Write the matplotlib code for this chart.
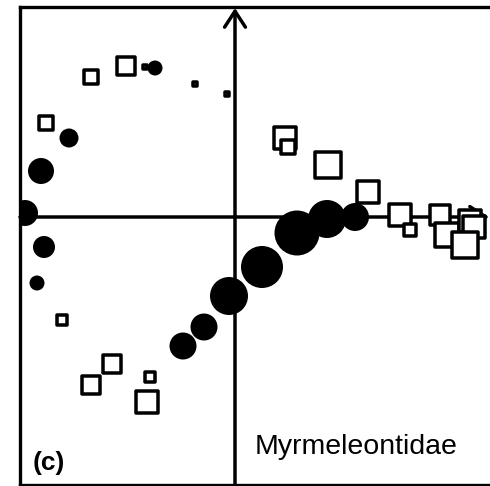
import matplotlib
matplotlib.use("Agg")
import matplotlib.pyplot as plt
import numpy as np

plt.rcParams['font.family'] = ['Liberation Sans', 'DejaVu Sans']

# Ordination scores (axis 1, axis 2) and relative abundance (marker size, px)
circle_x = [-0.80, -1.66, -1.94, -2.10, -1.91, -1.98, -0.52, -0.31, -0.06, 0.27, 0.62, 0.92, 1.20]
circle_y = [1.49, 0.79, 0.46, 0.04, -0.30, -0.66, -1.29, -1.10, -0.79, -0.50, -0.16, -0.02, 0.00]
circle_size = [15, 19, 26, 26, 22, 15, 27, 27, 38, 42, 45, 38, 28]

square_x = [-1.44, -1.09, -0.90, -0.40, -0.08, -1.89, -1.73, -1.23, -1.44, -0.85, -0.88,
            0.50, 0.53, 0.93, 1.33, 1.65, 1.75, 2.05, 2.12, 2.35, 2.39, 2.30]
square_y = [1.40, 1.51, 1.50, 1.33, 1.23, 0.94, -1.03, -1.47, -1.68, -1.60, -1.85,
            0.79, 0.70, 0.52, 0.25, 0.02, -0.13, 0.02, -0.18, -0.04, -0.10, -0.28]
square_size = [18, 22, 7, 8, 8, 18, 14, 21, 21, 13, 26,
               25, 18, 29, 25, 25, 15, 23, 27, 25, 26, 29]

panel_label = "(c)"
taxon_label = "Myrmeleontidae"

W, H, DPI = 490, 486, 100
fig = plt.figure(figsize=(W / DPI, H / DPI), dpi=DPI)
left, right, top, bottom = 20, 490, 7, 485
ax = fig.add_axes([left / W, (H - bottom) / H, (right - left) / W, (bottom - top) / H])

xmin, xmax = -2.15, 2.55
ymin, ymax = -2.68, 2.10
ax.set_xlim(xmin, xmax)
ax.set_ylim(ymin, ymax)
ax.set_xticks([])
ax.set_yticks([])
for side in ['left', 'top', 'bottom']:
    ax.spines[side].set_linewidth(2.4)
ax.spines['right'].set_visible(False)

px2pt = 72.0 / DPI
edge_px = 3.5

# axes of ordination with arrows
arrow_kw = dict(arrowstyle='->,head_length=1.15,head_width=0.75', lw=2.5, color='black',
                shrinkA=0, shrinkB=0)
ax.annotate('', xy=(0, ymax - 0.01), xytext=(0, ymin), arrowprops=arrow_kw, zorder=1)
ax.annotate('', xy=(2.54, 0), xytext=(xmin, 0), arrowprops=arrow_kw, zorder=1)

# circles
cs = (np.array(circle_size) * px2pt) ** 2
ax.scatter(circle_x, circle_y, s=cs, marker='o', c='black', linewidths=0, zorder=3)

# squares (open, white fill, drawn one by one to keep overlap order)
for x, y, sz in zip(square_x, square_y, square_size):
    side_pt = max(sz - edge_px, 0.5) * px2pt
    ax.scatter([x], [y], s=side_pt ** 2, marker='s', facecolor='white',
               edgecolor='black', linewidths=edge_px * px2pt, zorder=4)

fig.text(33 / W, (H - 470) / H, panel_label, fontsize=19, fontweight='bold',
         ha='left', va='baseline')
fig.text(255 / W, (H - 454) / H, taxon_label, fontsize=20.5,
         ha='left', va='baseline')

fig.savefig('out.png', dpi=DPI)
